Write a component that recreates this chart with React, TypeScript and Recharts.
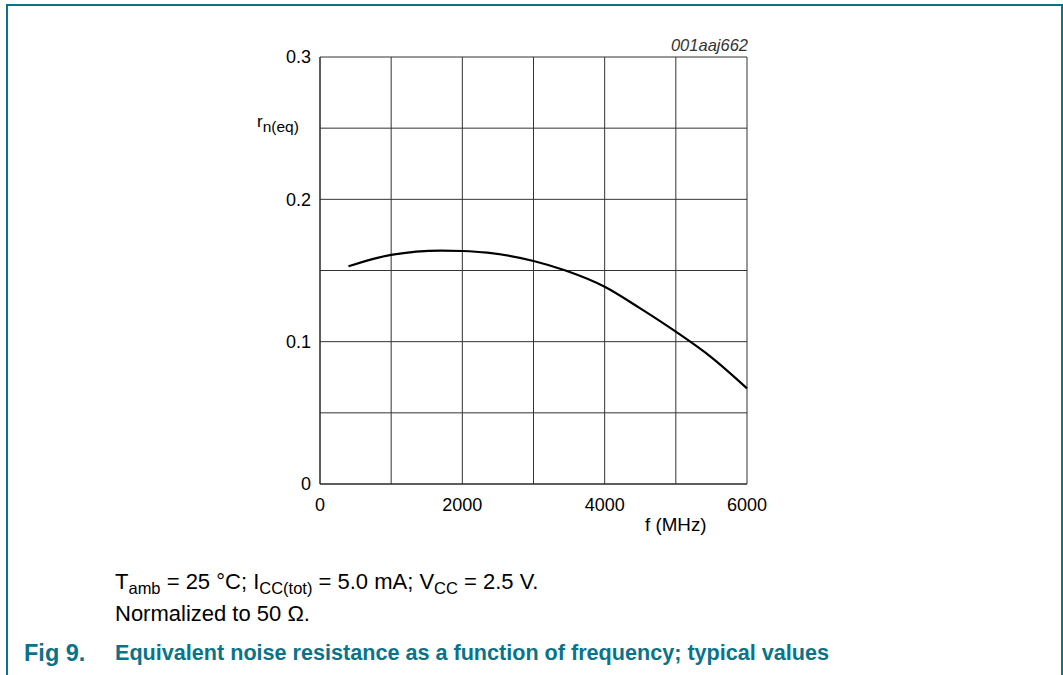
import React from 'react';
import { LineChart, Line, XAxis, YAxis, CartesianGrid } from 'recharts';

// frequency (MHz) and normalized equivalent noise resistance
const freqMHz = [400, 1000, 1700, 2000, 2350, 3000, 3450, 4000, 4500, 5000, 5500, 6000];
const rnEq = [0.153, 0.161, 0.164, 0.1637, 0.1625, 0.1567, 0.15, 0.1386, 0.1234, 0.107, 0.089, 0.0672];

const xTicks = [0, 1000, 2000, 3000, 4000, 5000, 6000];
const yTicks = [0, 0.05, 0.1, 0.15, 0.2, 0.25, 0.3];
const xLabels = [0, 2000, 4000, 6000];
const yLabels = [0, 0.1, 0.2, 0.3];

const data = freqMHz.map((f, i) => ({ f, r: rnEq[i] }));

const TEAL = '#0a7389';
const FONT = '"Liberation Sans", Arial, Helvetica, sans-serif';

const App: React.FC = () => {
  return (
    <div
      style={{
        position: 'absolute',
        left: 0,
        top: 0,
        width: 1063,
        height: 675,
        overflow: 'hidden',
        background: '#fff',
        fontFamily: FONT,
      }}
    >
      {/* frame */}
      <div
        style={{
          position: 'absolute',
          left: 6,
          top: 4,
          width: 1053,
          height: 700,
          borderTop: `2px solid ${TEAL}`,
          borderLeft: `2px solid ${TEAL}`,
          borderRight: `2px solid ${TEAL}`,
        }}
      />

      <div style={{ position: 'absolute', left: 0, top: 0 }}>
        <LineChart
          width={1063}
          height={675}
          data={data}
          margin={{ top: 57, right: 316, bottom: 161, left: 260 }}
        >
          <CartesianGrid stroke="#333" strokeWidth={1} horizontalValues={yTicks} verticalValues={xTicks} />
          <XAxis
            type="number"
            dataKey="f"
            domain={[0, 6000]}
            ticks={xTicks}
            tickFormatter={(v: number) => (xLabels.includes(v) ? String(v) : '')}
            interval={0}
            height={30}
            tickLine={false}
            tickSize={0}
            tickMargin={14}
            axisLine={{ stroke: '#222' }}
            tick={{ fill: '#000', fontSize: 18, fontFamily: FONT }}
          />
          <YAxis
            type="number"
            domain={[0, 0.3]}
            ticks={yTicks}
            tickFormatter={(v: number) => (yLabels.some((l) => Math.abs(l - v) < 1e-9) ? String(v) : '')}
            interval={0}
            width={60}
            tickLine={false}
            tickSize={0}
            tickMargin={9}
            axisLine={{ stroke: '#222' }}
            tick={{ fill: '#000', fontSize: 18, fontFamily: FONT }}
          />
          <Line
            type="monotone"
            dataKey="r"
            stroke="#000"
            strokeWidth={2.2}
            dot={false}
            isAnimationActive={false}
          />
        </LineChart>
      </div>

      {/* y axis label */}
      <div style={{ position: 'absolute', left: 257, top: 113, fontSize: 17, lineHeight: 1, color: '#000', whiteSpace: 'nowrap' }}>
        r<span style={{ fontSize: 15.5, position: 'relative', top: 5 }}>n(eq)</span>
      </div>

      {/* x axis label */}
      <div style={{ position: 'absolute', left: 645, top: 516, fontSize: 18.8, lineHeight: 1, color: '#000', whiteSpace: 'nowrap' }}>
        f (MHz)
      </div>

      {/* figure code */}
      <div
        style={{
          position: 'absolute',
          right: 1063 - 748,
          top: 37,
          fontSize: 16.5,
          lineHeight: 1,
          fontStyle: 'italic',
          color: '#333',
          whiteSpace: 'nowrap',
        }}
      >
        001aaj662
      </div>

      {/* conditions */}
      <div style={{ position: 'absolute', left: 115, top: 571, fontSize: 22, lineHeight: 1, color: '#000', whiteSpace: 'nowrap' }}>
        T<span style={{ fontSize: 16.5, position: 'relative', top: 5 }}>amb</span> = 25 °C; I
        <span style={{ fontSize: 16.5, position: 'relative', top: 5 }}>CC(tot)</span> = 5.0 mA; V
        <span style={{ fontSize: 16.5, position: 'relative', top: 5 }}>CC</span> = 2.5 V.
      </div>
      <div style={{ position: 'absolute', left: 115, top: 603, fontSize: 22, lineHeight: 1, color: '#000', whiteSpace: 'nowrap' }}>
        Normalized to 50 Ω.
      </div>

      {/* caption */}
      <div style={{ position: 'absolute', left: 24, top: 642, fontSize: 23.5, lineHeight: 1, fontWeight: 'bold', color: TEAL, whiteSpace: 'nowrap' }}>
        Fig 9.
      </div>
      <div style={{ position: 'absolute', left: 115, top: 642, fontSize: 21.6, lineHeight: 1, fontWeight: 'bold', color: TEAL, whiteSpace: 'nowrap' }}>
        Equivalent noise resistance as a function of frequency; typical values
      </div>
    </div>
  );
};

export default App;
